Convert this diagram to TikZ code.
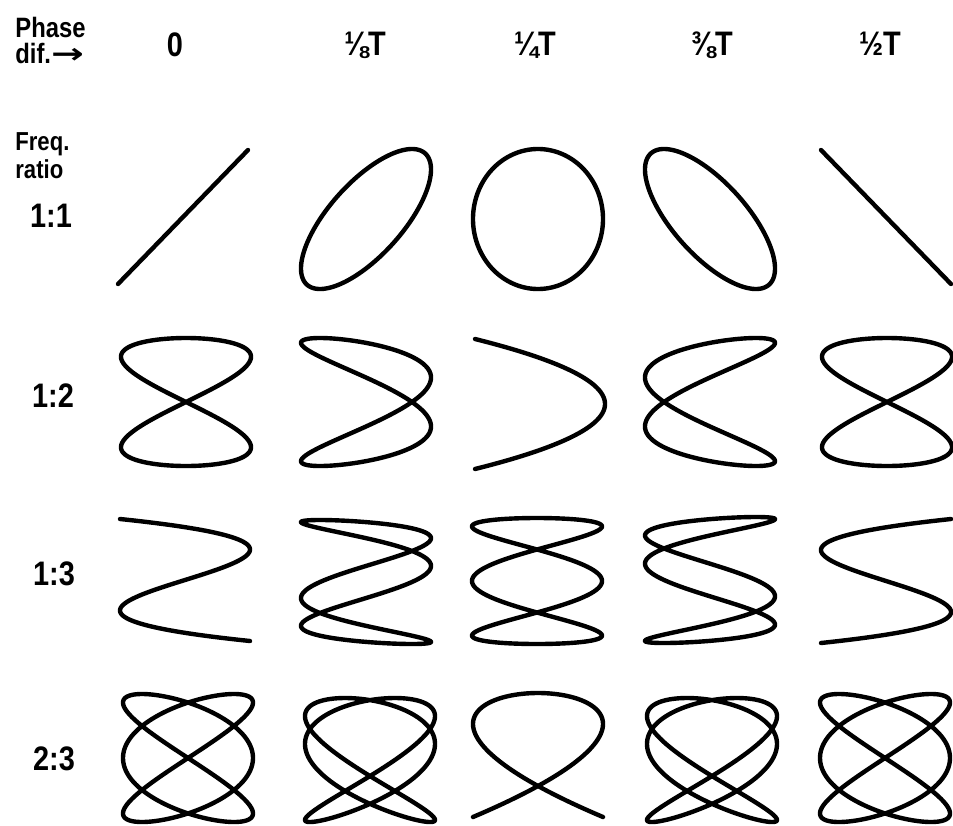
\documentclass[tikz,border=0pt]{standalone}
\usepackage{fontspec}
\setmainfont{Liberation Sans}[FakeStretch=0.85]
\newfontfamily\arrowfont{DejaVu Sans}[FakeStretch=1.4]
\usepackage{tikz}
\usetikzlibrary{positioning}

% centre x, centre y, half height, x freq, x phase, y freq, y phase
\newcommand{\lissajous}[7]{%
    \draw [curve] plot[domain=0:360, samples=361, variable=\t]
        ({#1 + 65*sin(#4*\t + #5)}, {#2 - #3*sin(#6*\t + #7)});}

\begin{document}
\begin{tikzpicture}[x=0.5pt, y=-0.5pt,
    headtext/.style={font=\bfseries\fontsize{14}{16}\selectfont, anchor=base west, inner sep=0pt},
    ratiotext/.style={font=\bfseries\fontsize{13}{15}\selectfont, anchor=base west, inner sep=0pt},
    numtext/.style={font=\bfseries\fontsize{17}{20}\selectfont, anchor=base, inner sep=0pt},
    curve/.style={line width=2.2pt, line join=round, line cap=round}
]
    \useasboundingbox (0,0) rectangle (953,825);

    \node (phase) [headtext] at (15,37) {Phase};
    \node (dif) [headtext] at (15,63) {dif.{\arrowfont →}};
    \node (ph0) [numtext] at (175,56) {0};
    \node (ph1) [numtext] at (365,55) {⅛T};
    \node (ph2) [numtext] at (535,55) {¼T};
    \node (ph3) [numtext] at (712,55) {⅜T};
    \node (ph4) [numtext] at (880,55) {½T};

    \node (freq) [ratiotext] at (15,150) {Freq.};
    \node (ratio) [ratiotext] at (15,178) {ratio};
    \node (r11) [numtext] at (51,227) {1:1};
    \node (r12) [numtext] at (53,407) {1:2};
    \node (r13) [numtext] at (54,585) {1:3};
    \node (r23) [numtext] at (54,770) {2:3};

    % 1:1
    \lissajous{183}{217}{67}{1}{0}{1}{0}
    \lissajous{366}{219}{70}{1}{0}{1}{45}
    \lissajous{538}{219}{70}{1}{0}{1}{90}
    \lissajous{710}{219}{70}{1}{0}{1}{135}
    \lissajous{886}{217}{67}{1}{0}{1}{180}
    % 1:2
    \lissajous{186}{402}{64}{2}{0}{1}{0}
    \lissajous{366}{402}{64}{2}{45}{1}{0}
    \lissajous{540}{404}{65}{2}{90}{1}{0}
    \lissajous{710}{402}{64}{2}{225}{1}{0}
    \lissajous{887}{402}{64}{2}{180}{1}{0}
    % 1:3
    \lissajous{185}{580}{61}{3}{0}{1}{0}
    \lissajous{366}{582}{62}{3}{45}{1}{0}
    \lissajous{537}{581}{63}{3}{90}{1}{0}
    \lissajous{710}{580}{63}{3}{135}{1}{0}
    \lissajous{886}{581}{62}{3}{180}{1}{0}
    % 2:3
    \lissajous{188}{758}{64}{3}{0}{2}{0}
    \lissajous{370}{760}{62}{3}{0}{2}{225}
    \lissajous{538}{755}{62}{3}{0}{2}{90}
    \lissajous{712}{760}{62}{3}{0}{2}{315}
    \lissajous{885}{758}{64}{3}{0}{2}{180}
\end{tikzpicture}
\end{document}
